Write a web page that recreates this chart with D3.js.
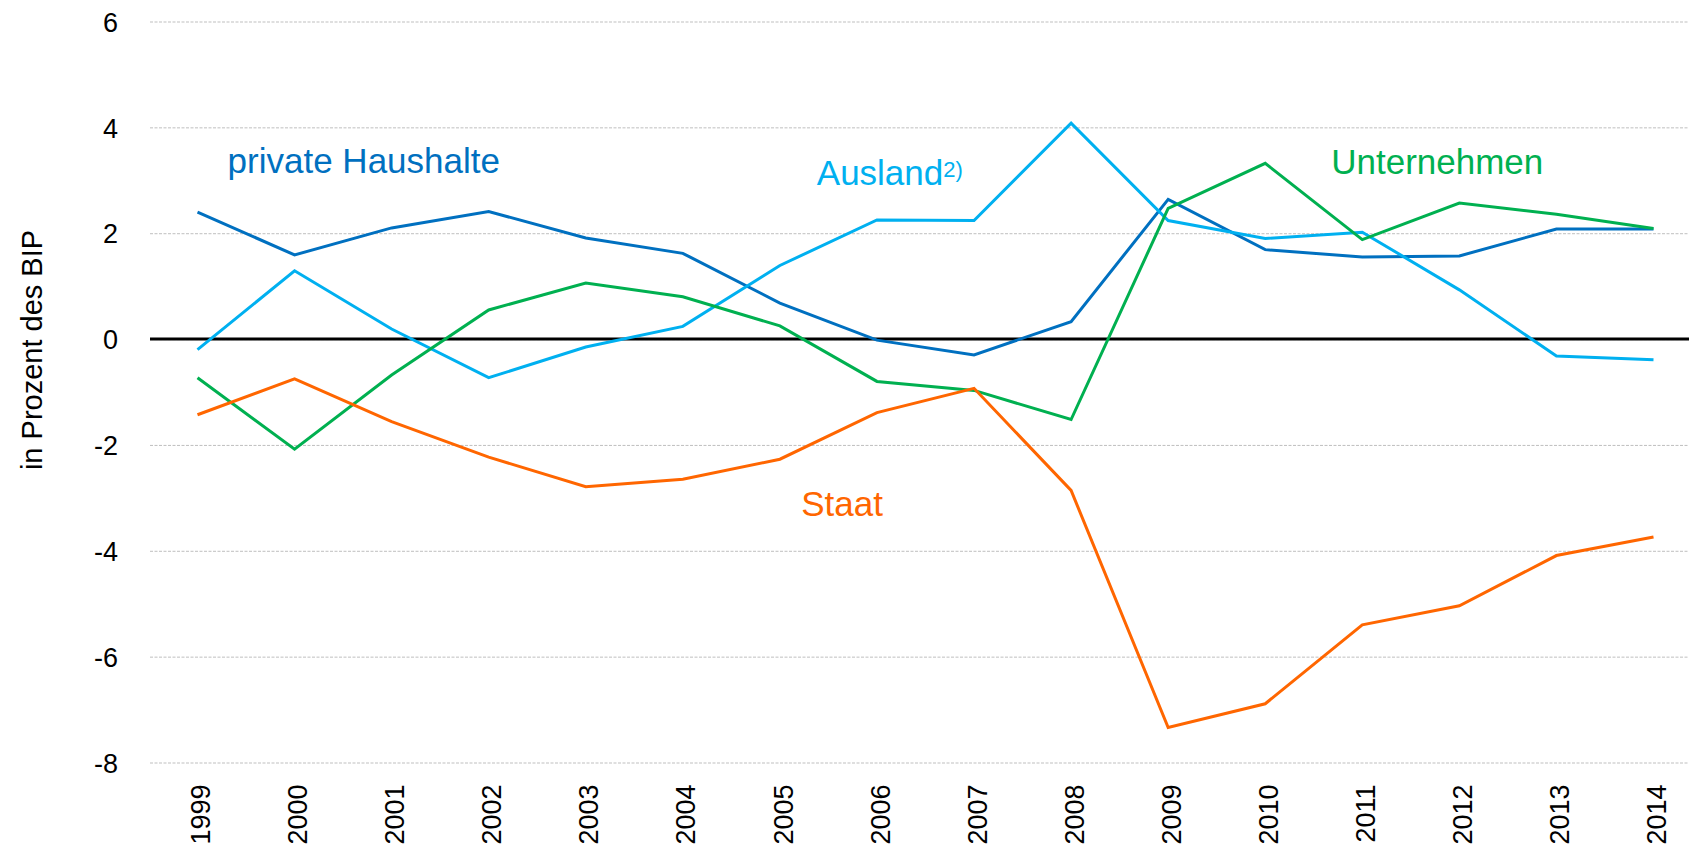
<!DOCTYPE html>
<html>
<head>
<meta charset="utf-8">
<script src="https://cdn.jsdelivr.net/npm/d3@7"></script>
<style>
  body { margin: 0; background: #fff; }
  svg { display: block; font-family: "Liberation Sans", Arial, sans-serif; }
  .grid line { stroke: #bfbfbf; stroke-width: 1; stroke-dasharray: 3,1.5; }
  .axis text { fill: #000; font-size: 27px; }
</style>
</head>
<body>
<svg id="chart" width="1689" height="851"></svg>
<script>
// data (in % of GDP)
var years = [1999, 2000, 2001, 2002, 2003, 2004, 2005, 2006, 2007, 2008, 2009, 2010, 2011, 2012, 2013, 2014];
var haushalte = [2.40, 1.59, 2.10, 2.41, 1.91, 1.62, 0.68, -0.02, -0.30, 0.33, 2.64, 1.69, 1.55, 1.57, 2.08, 2.08];
var ausland = [-0.20, 1.29, 0.19, -0.73, -0.15, 0.24, 1.39, 2.25, 2.24, 4.08, 2.24, 1.90, 2.02, 0.93, -0.32, -0.39];
var unternehmen = [-0.73, -2.08, -0.68, 0.55, 1.06, 0.80, 0.25, -0.80, -0.97, -1.52, 2.47, 3.32, 1.88, 2.57, 2.36, 2.09];
var staat = [-1.43, -0.75, -1.56, -2.23, -2.79, -2.65, -2.27, -1.39, -0.93, -2.86, -7.34, -6.89, -5.40, -5.04, -4.09, -3.74];
var yTicks = [-8, -6, -4, -2, 0, 2, 4, 6];

var series = [
  { name: "private Haushalte", values: haushalte, color: "#0070c0" },
  { name: "Ausland", values: ausland, color: "#00b0f0" },
  { name: "Unternehmen", values: unternehmen, color: "#00b050" },
  { name: "Staat", values: staat, color: "#ff6600" }
];
// label anchors in data units (year, value)
var labels = [
  { text: "private Haushalte", sup: "", at: [1999.31, 3.14], color: "#0070c0" },
  { text: "Ausland", sup: "2)", at: [2005.38, 2.92], color: "#00b0f0" },
  { text: "Unternehmen", sup: "", at: [2010.68, 3.12], color: "#00b050" },
  { text: "Staat", sup: "", at: [2005.22, -3.34], color: "#ff6600" }
];

var svg = d3.select("#chart");
var width = +svg.attr("width");
var left = 150;

var x = d3.scaleLinear().domain([1999, 2014]).range([197.5, 1653.5]);
var y = d3.scaleLinear().domain([-8, 6]).range([762.5, 21.5]);

// dotted gridlines
svg.append("g")
    .attr("class", "grid")
    .attr("transform", "translate(" + left + ",0)")
    .call(d3.axisLeft(y).tickValues(yTicks).tickSize(-(width - left)).tickFormat(""))
    .call(function (g) { g.select(".domain").remove(); });

// y tick labels
svg.append("g")
    .attr("class", "axis")
    .attr("transform", "translate(" + left + ",0)")
    .call(d3.axisLeft(y).tickValues(yTicks).tickSize(0).tickPadding(32)
        .tickFormat(function (d) { return d < 0 ? "-" + (-d) : d; }))
    .call(function (g) { g.select(".domain").remove(); })
    .selectAll("text").attr("dy", "0.36em");

// x tick labels, rotated
svg.append("g")
    .attr("class", "axis")
    .attr("transform", "translate(0," + y(-8) + ")")
    .call(d3.axisBottom(x).tickValues(years).tickSize(0).tickFormat(d3.format("d")))
    .call(function (g) { g.select(".domain").remove(); })
    .selectAll("text")
    .attr("transform", "rotate(-90)")
    .attr("x", -22)
    .attr("y", 0)
    .attr("dy", "0.45em")
    .style("text-anchor", "end");

// zero line
svg.append("line")
    .attr("x1", left).attr("x2", width)
    .attr("y1", y(0)).attr("y2", y(0))
    .attr("stroke", "#000").attr("stroke-width", 3);

var line = d3.line()
    .x(function (d, i) { return x(years[i]); })
    .y(function (d) { return y(d); });

svg.append("g").selectAll("path")
    .data(series)
    .enter().append("path")
    .attr("fill", "none")
    .attr("stroke", function (d) { return d.color; })
    .attr("stroke-width", 3)
    .attr("stroke-linejoin", "miter")
    .attr("d", function (d) { return line(d.values); });

// series labels
var lab = svg.append("g").selectAll("text")
    .data(labels)
    .enter().append("text")
    .attr("x", function (d) { return x(d.at[0]); })
    .attr("y", function (d) { return y(d.at[1]); })
    .attr("fill", function (d) { return d.color; })
    .style("font-size", "35px")
    .text(function (d) { return d.text; });
lab.filter(function (d) { return d.sup; })
    .append("tspan")
    .attr("dy", -8)
    .style("font-size", "22px")
    .text(function (d) { return d.sup; });

// y axis title
svg.append("text")
    .attr("transform", "translate(42,350) rotate(-90)")
    .style("text-anchor", "middle")
    .style("font-size", "29px")
    .text("in Prozent des BIP");
</script>
</body>
</html>
